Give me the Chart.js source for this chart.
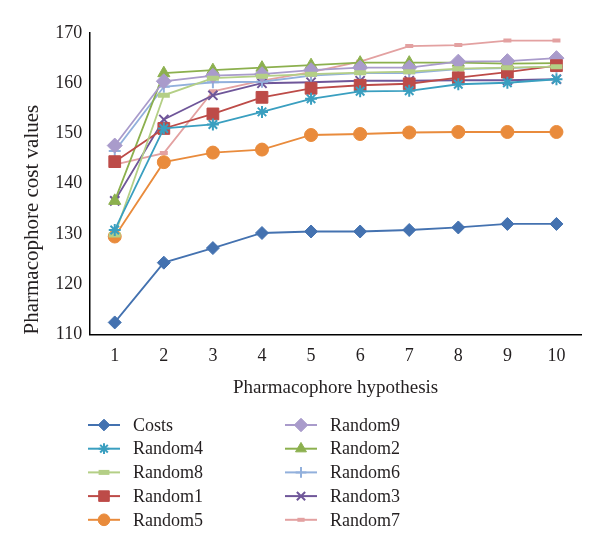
<!DOCTYPE html>
<html>
<head>
<meta charset="utf-8">
<script src="https://cdn.jsdelivr.net/npm/chart.js@4/dist/chart.umd.min.js"></script>
<style>
  html, body { margin: 0; padding: 0; background: #fff; }
  #wrap { width: 600px; height: 553px; position: relative; }
</style>
</head>
<body>
<div id="wrap"><canvas id="chart"></canvas></div>
<script>
// values
const categories = ["1", "2", "3", "4", "5", "6", "7", "8", "9", "10"];
const costs   = [112.4, 124.3, 127.2, 130.2, 130.5, 130.5, 130.8, 131.3, 132.0, 132.0];
const random4 = [130.8, 151.0, 151.8, 154.3, 156.9, 158.4, 158.5, 159.8, 160.1, 160.8];
const random8 = [129.8, 157.6, 161.0, 161.4, 161.8, 162.1, 162.3, 162.9, 163.1, 163.3];
const random1 = [144.4, 151.0, 153.9, 157.2, 159.0, 159.6, 159.9, 161.1, 162.2, 163.5];
const random5 = [129.5, 144.3, 146.2, 146.8, 149.7, 149.9, 150.2, 150.3, 150.3, 150.3];
const random9 = [147.6, 160.4, 161.5, 161.8, 162.6, 163.1, 163.1, 164.3, 164.4, 165.0];
const random2 = [136.6, 162.0, 162.6, 163.1, 163.6, 164.1, 164.1, 164.1, 163.9, 164.0];
const random6 = [146.5, 159.3, 160.2, 160.3, 161.5, 162.0, 162.0, 162.8, 163.0, 163.3];
const random3 = [136.6, 152.8, 157.6, 160.0, 160.2, 160.5, 160.5, 160.6, 160.6, 160.8];
const random7 = [143.8, 146.1, 158.4, 160.5, 162.2, 164.3, 167.4, 167.6, 168.5, 168.5];

const yTicks = [110, 120, 130, 140, 150, 160, 170];

const FONT = "'Liberation Serif', 'DejaVu Serif', serif";
const TEXT = "#231f20";

function series(label, data, color, style, radius, pointBorder) {
  return {
    label: label,
    data: data,
    borderColor: color,
    backgroundColor: color,
    borderWidth: 1.8,
    pointStyle: style,
    pointRadius: radius,
    pointHoverRadius: radius,
    pointBackgroundColor: color,
    pointBorderColor: color,
    pointBorderWidth: pointBorder,
    tension: 0
  };
}

const datasets = [
  series("Costs",   costs,   "#4472b0", "rectRot",  6.5, 1),
  series("Random4", random4, "#3a9fc0", "star",     6,   2),
  series("Random8", random8, "#b4cf86", "line",     6,   5),
  series("Random1", random1, "#bd4b48", "rect",     8.3, 1),
  series("Random5", random5, "#e98b3c", "circle",   6.5, 1),
  series("Random9", random9, "#a99bcb", "rectRot",  7.5, 1),
  series("Random2", random2, "#8cb04e", "triangle", 7,   1),
  series("Random6", random6, "#92b0dc", "cross",    6,   2),
  series("Random3", random3, "#6f5699", "crossRot", 6.5, 2),
  series("Random7", random7, "#e3a1a1", "line",     4,   4)
];

// two-column legend below the plot, line sample with marker
const sideLegend = {
  id: "sideLegend",
  afterDraw(chart) {
    const ctx = chart.ctx;
    const cols = [{ cx: 104, tx: 133 }, { cx: 301, tx: 330 }];
    const top = 425, step = 23.7;
    ctx.save();
    chart.data.datasets.forEach((ds, i) => {
      const col = cols[i < 5 ? 0 : 1];
      const y = top + (i % 5) * step;
      ctx.strokeStyle = ds.borderColor;
      ctx.fillStyle = ds.borderColor;
      ctx.lineWidth = 2;
      ctx.beginPath();
      ctx.moveTo(col.cx - 16, y);
      ctx.lineTo(col.cx + 16, y);
      ctx.stroke();
      ctx.lineWidth = ds.pointBorderWidth;
      Chart.helpers.drawPoint(ctx, {
        pointStyle: ds.pointStyle,
        radius: ds.pointRadius * 0.9,
        borderWidth: ds.pointBorderWidth,
        rotation: 0
      }, col.cx, y);
      ctx.fillStyle = TEXT;
      ctx.font = "18px " + FONT;
      ctx.textBaseline = "middle";
      ctx.textAlign = "left";
      ctx.fillText(ds.label, col.tx, y + 1);
    });
    ctx.restore();
  }
};

new Chart(document.getElementById("chart"), {
  type: "line",
  data: { labels: categories, datasets: datasets },
  plugins: [sideLegend],
  options: {
    responsive: true,
    maintainAspectRatio: false,
    animation: false,
    layout: { padding: { top: 33, right: 19, bottom: 151.5, left: 20 } },
    plugins: {
      legend: { display: false },
      tooltip: { enabled: false }
    },
    scales: {
      x: {
        offset: true,
        grid: { display: false, drawTicks: false },
        border: { display: true, color: "#000", width: 1.5 },
        ticks: { color: TEXT, font: { family: FONT, size: 18, lineHeight: 1.0 }, padding: 13 },
        title: {
          display: true,
          text: "Pharmacophore hypothesis",
          color: TEXT,
          font: { family: FONT, size: 19, lineHeight: 1.0 },
          padding: { top: 0, bottom: 4 }
        }
      },
      y: {
        min: 110,
        max: 170,
        afterBuildTicks: (axis) => { axis.ticks = yTicks.map(v => ({ value: v })); },
        grid: { display: false, drawTicks: false },
        border: { display: true, color: "#000", width: 1.5 },
        ticks: { color: TEXT, font: { family: FONT, size: 18 }, padding: 8 },
        title: {
          display: true,
          text: "Pharmacophore cost values",
          align: "start",
          color: TEXT,
          font: { family: FONT, size: 21 },
          padding: { top: 0, bottom: 2 }
        }
      }
    }
  }
});
</script>
</body>
</html>
